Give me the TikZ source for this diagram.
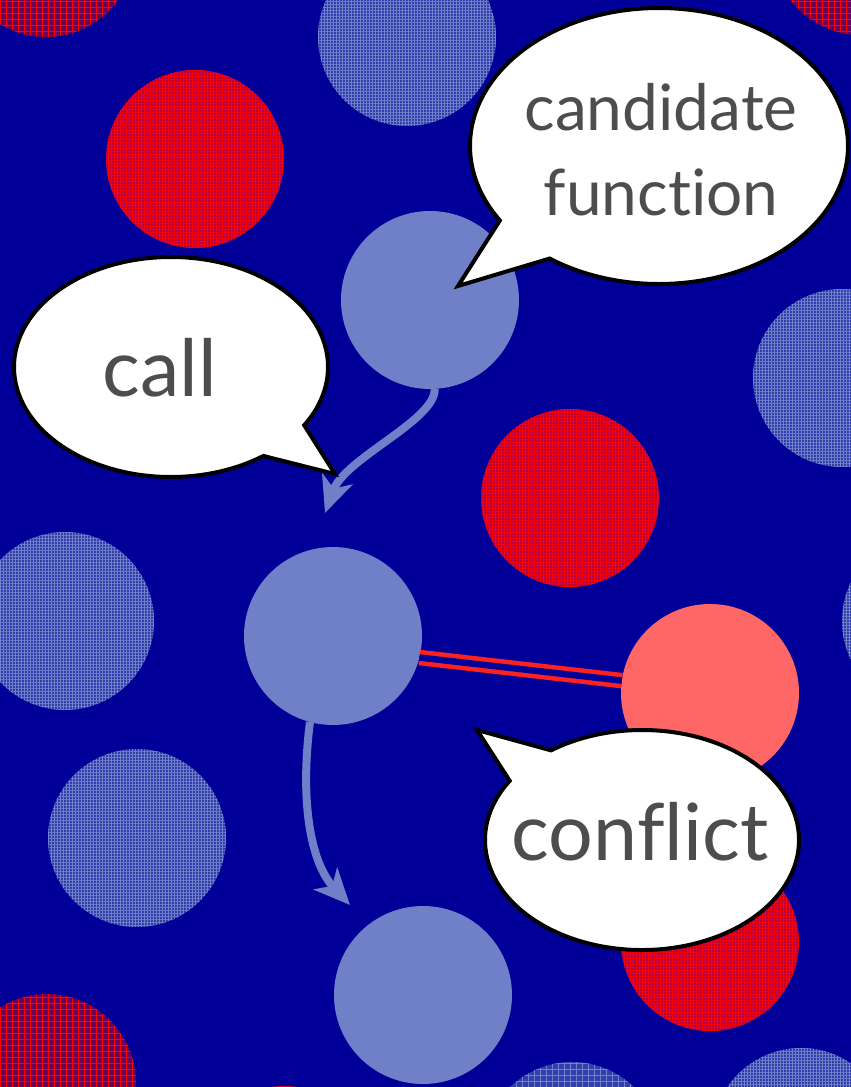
\documentclass[tikz,border=0pt]{standalone}
\usepackage{fontspec}
\setmainfont[Ligatures={NoCommon,NoRare,NoContextual}]{Lato}
\usetikzlibrary{shapes.callouts,patterns.meta,arrows.meta}

\definecolor{bgblue}{HTML}{000099}
\definecolor{dotblue}{HTML}{7080C8}
\definecolor{salmon}{HTML}{FF6666}
\definecolor{wire}{HTML}{FF2020}
\definecolor{ink}{HTML}{4D4D4D}
\definecolor{meshblue}{HTML}{323EAA}
\definecolor{meshbluel}{HTML}{7080CA}
\definecolor{meshred}{HTML}{B80040}
\definecolor{meshplum}{HTML}{660058}

\begin{document}
\begin{tikzpicture}[x=1pt,y=-1pt,
  disc/.style={circle,inner sep=0pt,outer sep=0pt,minimum size=178pt},
  solidblue/.style={disc,fill=dotblue},
  solidsalmon/.style={disc,fill=salmon},
  fineblue/.style={disc,preaction={fill=meshblue},
    pattern={Hatch[angle=0,distance=3pt,line width=0.7pt]},pattern color=meshbluel},
  coarseblue/.style={disc,preaction={fill=meshblue},
    pattern={Hatch[angle=0,distance=6pt,line width=0.7pt]},pattern color=meshbluel},
  finered/.style={disc,preaction={fill=meshred},
    pattern={Hatch[angle=0,distance=3pt,line width=0.8pt]},pattern color=red},
  coarsered/.style={disc,preaction={fill=meshplum},
    pattern={Hatch[angle=0,distance=6pt,line width=0.5pt]},pattern color=red},
  flow/.style={draw=dotblue,line width=8pt,
    -{Stealth[length=36pt,width=32pt,inset=10pt]}},
  wireline/.style={draw=wire,line width=4.5pt,double=bgblue,double distance=6.5pt},
  bubble/.style={ellipse callout,draw=black,line width=4pt,fill=white,
    callout pointer arc=22,inner sep=0pt},
  words/.style={text=ink,inner sep=0pt,align=center},
]
\useasboundingbox (0,0) rectangle (851,1087);
\clip (0,0) rectangle (851,1087);
\fill[bgblue] (0,0) rectangle (851,1087);

% background dots
\node[coarsered] (d1) at (46,-52) {};
\node[fineblue] (d2) at (407,37) {};
\node[finered] (d3) at (195,159) {};
\node[coarsered] (d4) at (861,-54) {};
\node[fineblue] (d5) at (842,378) {};
\node[finered] (d6) at (570,498) {};
\node[fineblue] (d7) at (65,621) {};
\node[fineblue] (d8) at (931,621) {};
\node[fineblue] (d9) at (137,838) {};
\node[finered] (d10) at (710,942) {};
\node[coarsered] (d11) at (47,1083) {};
\node[finered] (d12) at (284,1175) {};
\node[coarseblue] (d13) at (572,1151) {};
\node[fineblue] (d14) at (801,1137) {};

% the four highlighted dots
\node[solidblue] (cand) at (430,300) {};
\node[solidblue] (mid) at (333,636) {};
\node[solidsalmon] (conf) at (710,693) {};
\node[solidblue] (low) at (423,995) {};

% connectors
\coordinate (tipA) at (325,513);
\coordinate (tipB) at (350,905);
\draw[flow] (cand.-87) .. controls (436,420) and (345,458) .. (tipA);
\draw[flow] (mid.-105) .. controls (300,800) and (310,862) .. (tipB);
\draw[wireline] (mid.-14) -- (conf.172);

% speech bubbles
\node[bubble,minimum width=378pt,minimum height=276pt,
  callout absolute pointer={(458,286)}] (candb) at (659,146) {};
\node[bubble,minimum width=314pt,minimum height=220pt,
  callout absolute pointer={(335,474)}] (callb) at (171,367) {};
\node[bubble,minimum width=314pt,minimum height=220pt,
  callout absolute pointer={(477,730)}] (confb) at (642,840) {};

% bubble texts
\node[words,font=\fontsize{64}{85}\selectfont] (candt) at (661,150) {candidate\\function};
\node[words,font=\fontsize{79}{80}\selectfont] (callt) at (160,368) {call};
\node[words,font=\fontsize{79}{80}\selectfont] (conft) at (640,832) {conflict};
\end{tikzpicture}
\end{document}
